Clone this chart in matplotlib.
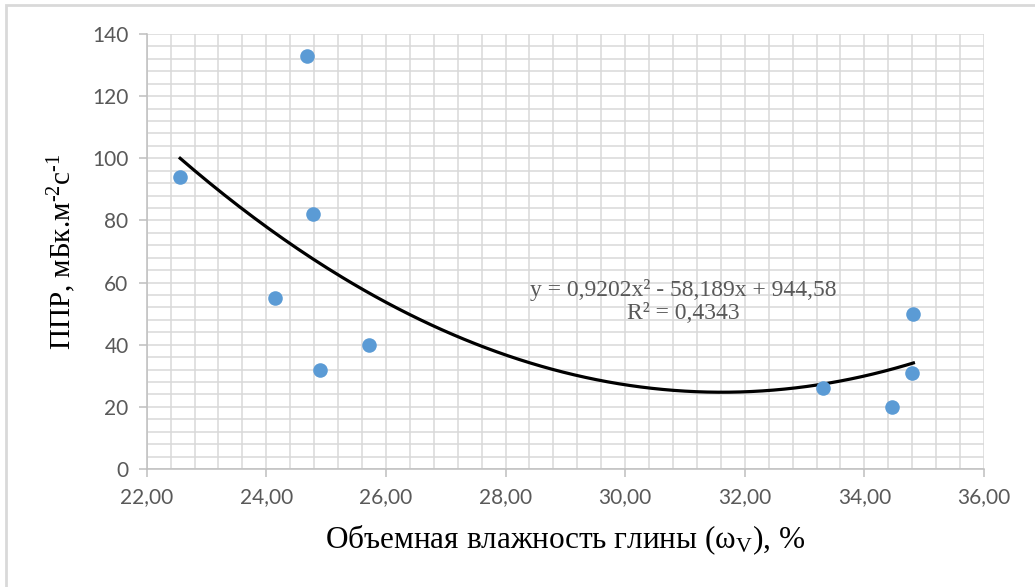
import matplotlib.pyplot as plt
from matplotlib.patches import Rectangle
from matplotlib.ticker import MultipleLocator, FuncFormatter
import numpy as np

# Data
moisture = [22.56, 24.68, 24.78, 24.14, 24.90, 25.72, 33.31, 34.47, 34.80, 34.82]
ppr = [94, 133, 82, 55, 32, 40, 26, 20, 31, 50]

eq_text = "y = 0,9202x² - 58,189x + 944,58"
r2_text = "R² = 0,4343"
x_label = "Объемная влажность глины (ω$_\\mathrm{V}$), %"
y_label = "ППР, мБк.м$^{\u2010\\mathrm{2}}$с$^{\u2010\\mathrm{1}}$"

plt.rcParams['mathtext.fontset'] = 'custom'
plt.rcParams['mathtext.rm'] = 'Liberation Serif'
plt.rcParams['mathtext.it'] = 'Liberation Serif:italic'

fig = plt.figure(figsize=(10.35, 5.87), dpi=100)
ax = fig.add_axes([0.1417, 0.201, 0.8090, 0.741])

# outer chart border (cropped at right/bottom)
fig.patches.append(Rectangle((6 / 1035, -0.1), 1.2, 1 - 5 / 587 + 0.1,
                             transform=fig.transFigure, fill=False,
                             edgecolor='#d9d9d9', linewidth=2))

# quadratic trend line fitted to the points
coef = np.polyfit(moisture, ppr, 2)
xs = np.linspace(min(moisture), max(moisture), 200)
ax.plot(xs, np.polyval(coef, xs), color='black', linewidth=2.3, zorder=3)

ax.scatter(moisture, ppr, s=110, color='#5B9BD5', zorder=4, linewidths=0)

ax.set_xlim(22, 36)
ax.set_ylim(0, 140)
ax.xaxis.set_major_locator(MultipleLocator(2))
ax.xaxis.set_minor_locator(MultipleLocator(0.4))
ax.yaxis.set_major_locator(MultipleLocator(20))
ax.yaxis.set_minor_locator(MultipleLocator(4))
ax.xaxis.set_major_formatter(FuncFormatter(lambda v, p: f"{v:.2f}".replace('.', ',')))

ax.grid(which='both', color='#d9d9d9', linewidth=1.1)
ax.set_axisbelow(True)
for s in ['top', 'right']:
    ax.spines[s].set_visible(False)
for s in ['left', 'bottom']:
    ax.spines[s].set_color('#bfbfbf')
    ax.spines[s].set_linewidth(1.1)
ax.tick_params(which='major', length=6, color='#bfbfbf', width=1.1,
               labelsize=15, labelcolor='#595959', pad=7)
ax.tick_params(which='minor', length=0)
for lab in ax.get_xticklabels() + ax.get_yticklabels():
    lab.set_family('Lato')

ax.set_xlabel(x_label, family='Liberation Serif', fontsize=22.5, labelpad=12)
ax.set_ylabel(y_label, family='Liberation Serif', fontsize=21, labelpad=10)

ax.text(30.97, 57.6, eq_text, family='Liberation Serif', fontsize=17,
        color='#595959', ha='center', va='center')
ax.text(30.97, 50.2, r2_text, family='Liberation Serif', fontsize=17,
        color='#595959', ha='center', va='center')

fig.savefig('out.png', dpi=100)
